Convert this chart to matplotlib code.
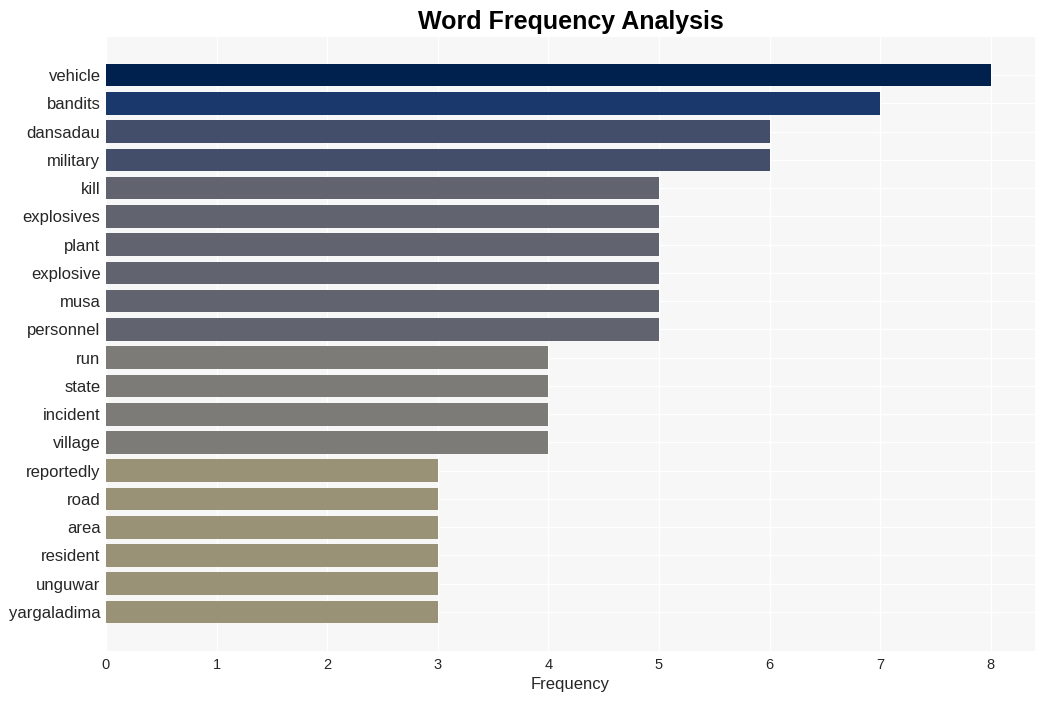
import matplotlib
matplotlib.use("Agg")
from matplotlib import pyplot as plt

plt.rcParams["font.family"] = ["Liberation Sans", "DejaVu Sans"]

# words and counts, top to bottom
words = ["vehicle", "bandits", "dansadau", "military", "kill", "explosives", "plant",
         "explosive", "musa", "personnel", "run", "state", "incident", "village",
         "reportedly", "road", "area", "resident", "unguwar", "yargaladima"]
counts = [8, 7, 6, 6, 5, 5, 5, 5, 5, 5, 4, 4, 4, 4, 3, 3, 3, 3, 3, 3]

# colour per count value (cividis-like)
color_by_count = {8: "#00214e", 7: "#1b386d", 6: "#434e6b", 5: "#61646f", 4: "#7c7b78", 3: "#9a9276"}
colors = [color_by_count[c] for c in counts]

fig = plt.figure(figsize=(10.45, 7.01), dpi=100)
ax = fig.add_axes([106 / 1045, 50 / 701, (1035 - 106) / 1045, (651 - 37) / 701])
ax.set_facecolor("#f7f7f7")

y = list(range(len(words)))
ax.barh(y, counts, height=0.8, color=colors, zorder=2)
ax.set_yticks(y)
ax.set_yticklabels(words, fontsize=12, color="#262626")
ax.set_ylim(len(words) - 1 + 1.38, -1.35)
ax.set_xlim(0, 8.4)
ax.set_xticks(range(9))
ax.tick_params(axis="x", labelsize=10.5, colors="#262626", length=0, pad=5)
ax.tick_params(axis="y", length=0, pad=4)

ax.grid(True, color="white", linewidth=1, zorder=0)
ax.set_axisbelow(True)
for s in ax.spines.values():
    s.set_visible(False)

ax.set_xlabel("Frequency", fontsize=12, color="#262626", labelpad=4)
ax.set_title("Word Frequency Analysis", fontsize=18, fontweight="bold", pad=6)

plt.savefig("out.png", dpi=100, facecolor="white")
